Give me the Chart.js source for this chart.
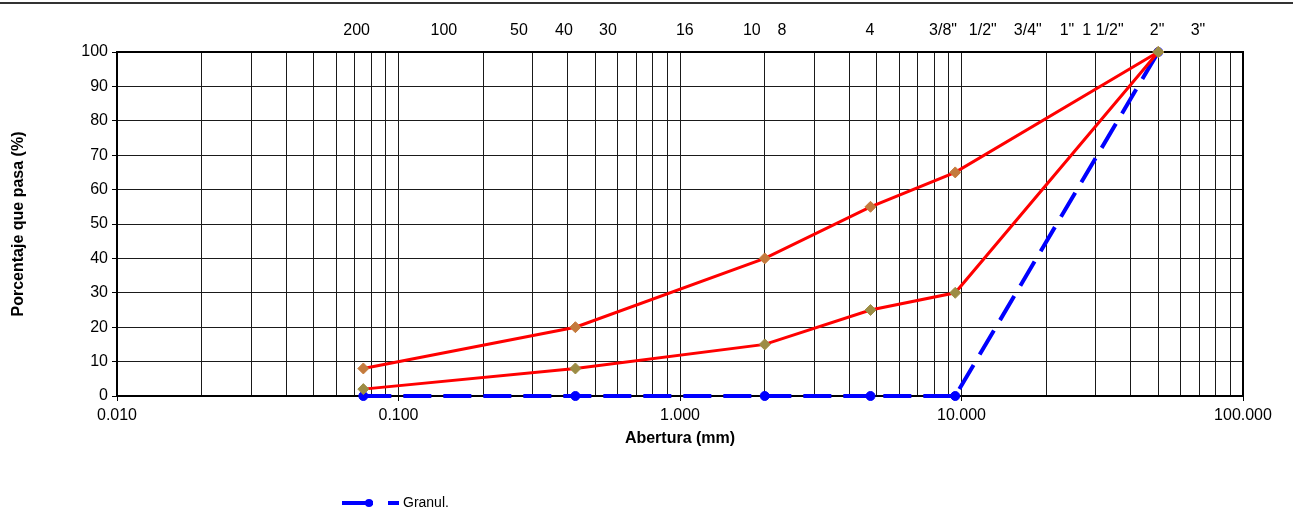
<!DOCTYPE html>
<html><head><meta charset="utf-8">
<script src="https://cdn.jsdelivr.net/npm/chart.js@4.4.1/dist/chart.umd.min.js"></script>
<style>
html,body{margin:0;padding:0;background:#fff;}
#wrap{position:relative;width:1293px;height:513px;overflow:hidden;}
#topline{position:absolute;left:0;top:2px;width:1293px;height:2px;background:#333;}
canvas{position:absolute;left:0;top:0;}
</style></head><body>
<div id="wrap"><canvas id="c" width="1293" height="513"></canvas><div id="topline"></div></div>
<script>
// ---- data ----
const openings   = [0.075, 0.425, 2.0, 4.75, 9.5, 50];     // mm
const upperLimit = [8, 20, 40, 55, 65, 100];
const lowerLimit = [2, 8, 15, 25, 30, 100];
const granul     = [0, 0, 0, 0, 0, 100];
const sieveLabels  = ['200','100','50','40','30','16','10','8','4','3/8"','1/2"','3/4"','1"','1 1/2"','2"','3"'];
const sieveLabelAt = [0.071,0.145,0.268,0.387,0.555,1.04,1.80,2.30,4.73,8.6,11.9,17.2,23.7,31.8,49.5,69.2];
const yTicks  = [0,10,20,30,40,50,60,70,80,90,100];
const xMajor  = [0.01,0.1,1,10,100];
const seriesLabels = ['Granul.','Límite superior','Límite inferior'];

// grid values: 1..9 x each decade
const xGrid = [];
xMajor.forEach((m,i)=>{ if(i<xMajor.length-1){ for(let k=1;k<=9;k++) xGrid.push(k===1?m:+(m*k).toPrecision(6)); } else xGrid.push(m); });
const isMajor = v => xMajor.some(m => Math.abs(m - v) < 1e-12);
const pts = arr => openings.map((x,i)=>({x:x, y:arr[i]}));

const FONT = 'Liberation Sans';

const legendPlugin = {
  id:'granulLegend',
  afterDraw(chart){
    const ds = chart.data.datasets[0];
    const ctx = chart.ctx;
    ctx.save();
    ctx.strokeStyle = ds.borderColor; ctx.lineWidth = 4; ctx.lineCap='butt';
    ctx.beginPath(); ctx.moveTo(342,503); ctx.lineTo(373,503); ctx.stroke();
    ctx.beginPath(); ctx.moveTo(388,503); ctx.lineTo(399,503); ctx.stroke();
    ctx.fillStyle = ds.pointBackgroundColor;
    ctx.beginPath(); ctx.arc(369,503,4,0,2*Math.PI); ctx.fill();
    ctx.fillStyle = '#000'; ctx.font = '14px "' + FONT + '"'; ctx.textBaseline='middle'; ctx.textAlign='left';
    ctx.fillText(ds.label, 403, 503);
    ctx.restore();
  }
};

new Chart(document.getElementById('c'), {
  type:'line',
  data:{ datasets:[
    { label:seriesLabels[0], data:pts(granul), borderColor:'#0000FF', borderWidth:4, borderDash:[28,12],
      pointStyle:'circle', pointRadius:4.5, pointBackgroundColor:'#0000FF', pointBorderColor:'#0000FF', pointBorderWidth:1,
      tension:0, order:2, clip:false, xAxisID:'x', yAxisID:'y' },
    { label:seriesLabels[1], data:pts(upperLimit), borderColor:'#FF0000', borderWidth:3,
      pointStyle:'rectRot', pointRadius:5.5, pointBackgroundColor:'#C47A3C', pointBorderColor:'#C47A3C', pointBorderWidth:1,
      tension:0, order:1, clip:false, xAxisID:'x', yAxisID:'y' },
    { label:seriesLabels[2], data:pts(lowerLimit), borderColor:'#FF0000', borderWidth:3,
      pointStyle:'rectRot', pointRadius:5.5, pointBackgroundColor:'#9C8C44', pointBorderColor:'#9C8C44', pointBorderWidth:1,
      tension:0, order:0, clip:false, xAxisID:'x', yAxisID:'y' }
  ]},
  options:{
    responsive:false, animation:false, devicePixelRatio:1,
    layout:{padding:0},
    plugins:{ legend:{display:false}, tooltip:{enabled:false} },
    scales:{
      x:{ type:'logarithmic', position:'bottom', min:0.01, max:100,
        afterBuildTicks: s => { s.ticks = xGrid.map(v=>({value:v})); },
        ticks:{ autoSkip:false, maxRotation:0, minRotation:0, padding:5, color:'#000',
          font:{family:FONT, size:16},
          callback:(v)=> isMajor(v) ? v.toFixed(3) : '' },
        grid:{ color:'#1a1a1a', lineWidth:1, tickLength:5,
          tickColor: c => (c.tick && isMajor(c.tick.value)) ? '#000' : 'rgba(0,0,0,0)' },
        border:{ color:'#000', width:2 },
        title:{ display:true, text:'Abertura (mm)', color:'#000',
          font:{family:FONT, size:16, weight:'bold'}, padding:{top:0, bottom:65} },
        afterFit: s => { s.height = 117; }
      },
      xTop:{ type:'logarithmic', position:'top', min:0.01, max:100,
        afterBuildTicks: s => { s.ticks = sieveLabelAt.map(v=>({value:v})); },
        ticks:{ autoSkip:false, maxRotation:0, minRotation:0, padding:12, color:'#000',
          font:{family:FONT, size:16},
          callback:(v,i)=> sieveLabels[i] },
        grid:{ display:false, drawTicks:false },
        border:{ color:'#000', width:2 },
        afterFit: s => { s.height = 52; }
      },
      y:{ type:'linear', position:'left', min:0, max:100,
        afterBuildTicks: s => { s.ticks = yTicks.map(v=>({value:v})); },
        ticks:{ padding:4, color:'#000', font:{family:FONT, size:16} },
        grid:{ color:'#1a1a1a', lineWidth:1, tickLength:5, tickColor:'#000' },
        border:{ color:'#000', width:2 },
        title:{ display:true, text:'Porcentaje que pasa (%)', color:'#000',
          font:{family:FONT, size:16, weight:'bold'}, padding:{top:9, bottom:0} },
        afterFit: s => { s.width = 117; }
      },
      yR:{ type:'linear', position:'right', min:0, max:100,
        ticks:{ display:false }, grid:{ display:false, drawTicks:false },
        border:{ color:'#000', width:2 },
        afterFit: s => { s.width = 50; }
      }
    }
  },
  plugins:[legendPlugin]
});
</script>
</body></html>
